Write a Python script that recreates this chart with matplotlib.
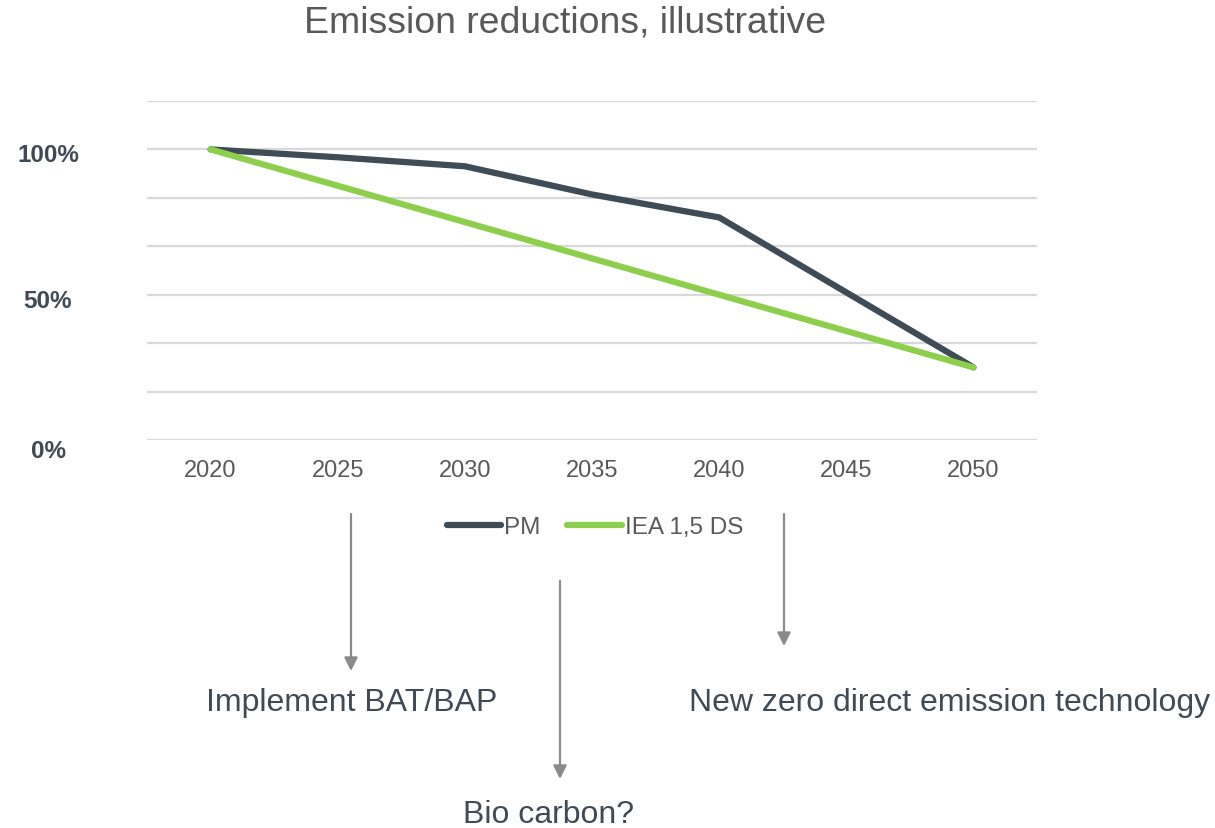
import matplotlib
matplotlib.use("Agg")
import matplotlib.pyplot as plt
import matplotlib.transforms as mtransforms
from matplotlib.lines import Line2D
from matplotlib.patches import FancyArrowPatch

plt.rcParams['font.family'] = ['Liberation Sans', 'DejaVu Sans']

years = ["2020", "2025", "2030", "2035", "2040", "2045", "2050"]
pm = [100, 97.3, 94.2, 84.5, 76.6, 50.8, 25]
iea = [100, 87.5, 75, 62.5, 50, 37.5, 25]
series_names = ["PM", "IEA 1,5 DS"]
ytick_vals = [0, 50, 100]
ytick_labels = ["0%", "50%", "100%"]

PM_COLOR = "#3f4b55"
IEA_COLOR = "#8ccf4d"
TEXT = "#404a54"
TICK = "#595959"
GRID = "#d9d9d9"
ARROW = "#8a8a8a"

W, H = 1215, 829
fig = plt.figure(figsize=(W / 100, H / 100), dpi=100)
ax = fig.add_axes([147 / W, 1 - 441 / H, (1037 - 147) / W, (441 - 102) / H])

x = list(range(len(years)))
for v in [i * 100 / 6 for i in range(8)]:
    ax.axhline(v, color=GRID, lw=1.6, zorder=0)
ax.plot(x, pm, color=PM_COLOR, lw=4.5, solid_capstyle="round", solid_joinstyle="round", zorder=3)
ax.plot(x, iea, color=IEA_COLOR, lw=4.5, solid_capstyle="round", solid_joinstyle="round", zorder=4)

ax.set_xlim(-0.5, len(years) - 0.5)
ax.set_ylim(0, 700 / 6)
ax.set_xticks(x)
ax.set_xticklabels(years, fontsize=17, color=TICK)
ax.tick_params(length=0)
ax.tick_params(axis="x", pad=14)
ax.set_yticks([])
for s in ax.spines.values():
    s.set_visible(False)

# percentage labels sit a little below their gridlines
ylab_tr = mtransforms.blended_transform_factory(fig.transFigure, ax.transData)
for v, lab, dy in zip(ytick_vals, ytick_labels, [11, 6, 5]):
    tr = ylab_tr + mtransforms.ScaledTranslation(0, -dy / 100, fig.dpi_scale_trans)
    ax.text(48 / W, v, lab, transform=tr, ha="center", va="center",
            fontsize=17.5, fontweight="bold", color=TEXT, clip_on=False)

fig.text(565 / W, 1 - 23 / H, "Emission reductions, illustrative", ha="center", va="center",
         fontsize=26.9, color="#595959")

handles = [Line2D([], [], color=PM_COLOR, lw=4.5, solid_capstyle="round"),
           Line2D([], [], color=IEA_COLOR, lw=4.5, solid_capstyle="round")]
fig.legend(handles, series_names, loc="center", bbox_to_anchor=(595 / W, 1 - 528 / H),
           ncol=2, frameon=False, fontsize=17.5, labelcolor=TICK, handlelength=2.25,
           handletextpad=0.12, columnspacing=1.1, borderpad=0)

arrows = [(351, 515, 672), (560, 582, 780), (784, 515, 647)]
for ax_x, y0, y1 in arrows:
    fig.add_artist(FancyArrowPatch(
        (ax_x / W, 1 - y0 / H), (ax_x / W, 1 - y1 / H), transform=fig.transFigure,
        arrowstyle="-|>,head_length=8,head_width=4", color=ARROW, lw=1.6,
        shrinkA=0, shrinkB=0))

notes = [("Implement BAT/BAP", 352, 703), ("Bio carbon?", 549, 815),
         ("New zero direct emission technology", 950, 703)]
for txt, nx, ny in notes:
    fig.text(nx / W, 1 - ny / H, txt, ha="center", va="center", fontsize=23, color=TEXT)

fig.savefig("out.png", dpi=100)
